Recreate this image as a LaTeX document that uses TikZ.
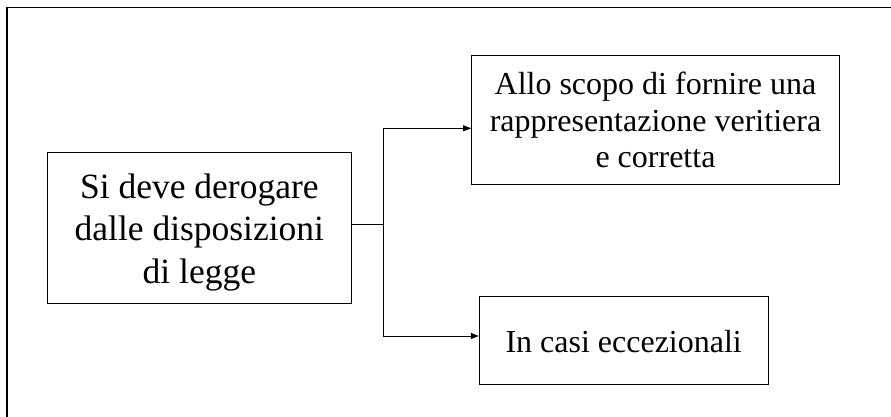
\documentclass[tikz,border=0pt]{standalone}
\usepackage{fontspec}
\setmainfont{Liberation Serif}
\usetikzlibrary{arrows.meta}
\newcommand\centredlines[3][0pt]{\vbox{\vskip#1\baselineskip=#2\lineskiplimit=-100pt\lineskip=0pt\halign{\hfil##\hfil\cr #3\crcr}}}
\begin{document}
\begin{tikzpicture}[x=1pt,y=-1pt,
  box/.style={draw, line width=1pt, inner sep=0pt, font=\fontsize{32}{36.5}\selectfont},
  bigbox/.style={box, font=\fontsize{35.5}{42.5}\selectfont},
  link/.style={line width=1pt},
  arr/.style={link, -{Triangle[length=8pt,width=6pt]}}]
\useasboundingbox (0,0) rectangle (891,417);
\draw[line width=1.2pt] (891,7.3) -- (7,7.3) -- (7,417);
\node[bigbox, minimum width=304.7pt, minimum height=151pt] (L) at (199.35,227.8) {\centredlines[9pt]{42.5pt}{Si deve derogare\cr dalle disposizioni\cr di legge}};
\node[box, minimum width=367.6pt, minimum height=128.3pt] (U) at (655.5,119.85) {\centredlines[1pt]{36.5pt}{Allo scopo di fornire una\cr rappresentazione veritiera\cr e corretta}};
\node[box, minimum width=288.7pt, minimum height=88pt] (B) at (623.65,340) {\centredlines[4pt]{36.5pt}{In casi eccezionali}};
\coordinate (j) at (383.3,224);
\coordinate (ua) at (383.3,128.3);
\coordinate (ba) at (383.3,336);
\draw[link] (L.east |- j) -- (j);
\draw[arr] (j) -- (ua) -- (U.west |- ua);
\draw[arr] (j) -- (ba) -- (B.west |- ba);
\end{tikzpicture}
\end{document}
